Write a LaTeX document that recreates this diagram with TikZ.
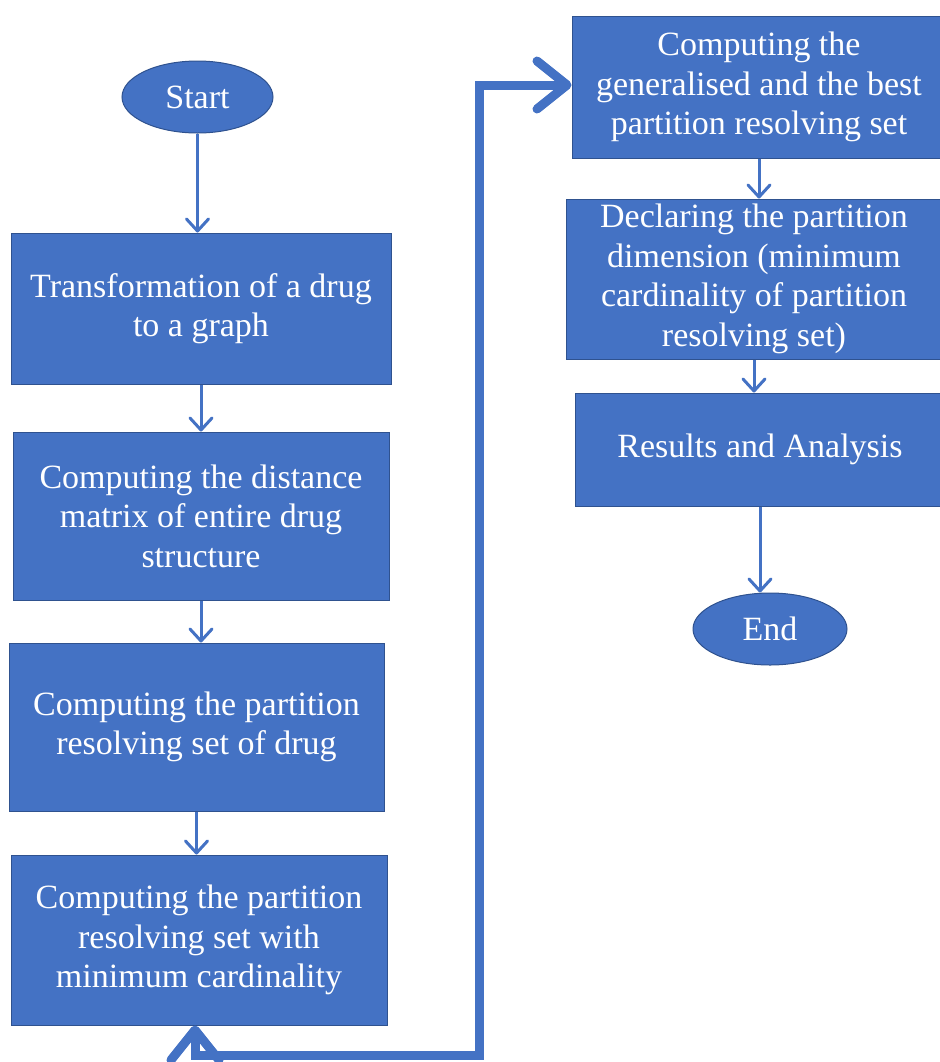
\documentclass[tikz,border=0pt]{standalone}
\usepackage{fontspec}
\setmainfont{Liberation Serif}
\usetikzlibrary{arrows.meta,shapes.geometric}
\definecolor{boxblue}{HTML}{4472C4}
\definecolor{boxedge}{HTML}{2F528F}
\tikzset{
  box/.style={shape=rectangle,draw=boxedge,line width=0.5pt,fill=boxblue,text=white,
    align=center,inner sep=0pt,font=\fontsize{17pt}{19.8pt}\selectfont},
  term/.style={shape=ellipse,draw=boxedge,line width=0.5pt,fill=boxblue,text=white,
    inner sep=0pt,font=\fontsize{17pt}{19.8pt}\selectfont},
  flow/.style={draw=boxblue,line width=1.5pt,-{Straight Barb[length=6pt,width=11pt,round]}},
  backflow/.style={draw=boxblue,line width=4.5pt,line join=miter,
    {Straight Barb[length=15pt,width=24pt,round]}-{Straight Barb[length=15pt,width=24pt,round]}}
}
\begin{document}
\begin{tikzpicture}[x=0.5pt,y=-0.5pt]
\useasboundingbox (0,0) rectangle (939,1062);
\node(0) at (197.5,97)[term,minimum width=75.5pt,minimum height=36pt] {Start};
\node(1) at (201,308.5)[box,minimum width=190pt,minimum height=75.5pt] {Transformation of a drug\\to a graph};
\node(2) at (201,516)[box,minimum width=188pt,minimum height=84pt] {Computing the distance\\matrix of entire drug\\structure};
\node(3) at (196.5,727)[box,minimum width=187.5pt,minimum height=84pt] {Computing the partition\\resolving set of drug};
\node(4) at (199,940)[box,minimum width=188pt,minimum height=85pt] {Computing the partition\\resolving set with\\minimum cardinality};
\node(5) at (759,87)[box,minimum width=187pt,minimum height=71pt] {Computing the\\generalised and the best\\partition resolving set};
\node(6) at (754,279)[box,minimum width=188pt,minimum height=80pt] {Declaring the partition\\dimension (minimum\\cardinality of partition\\resolving set)};
\node(7) at (760,449.5)[box,minimum width=185pt,minimum height=56.5pt] {Results and Analysis};
\node(8) at (770,629)[term,minimum width=77pt,minimum height=36pt] {End};
\coordinate(c1) at (479,1055);
\coordinate(c2) at (479,85);
\path
  (0.south) edge [flow] (0.south |- 1.north)
  (1.south) edge [flow] (1.south |- 2.north)
  (2.south) edge [flow] (2.south |- 3.north)
  (3.south) edge [flow] (3.south |- 4.north)
  (5.south) edge [flow] (5.south |- 6.north)
  (6.south) edge [flow] (6.south |- 7.north)
  (7.south) edge [flow] (7.south |- 8.north);
\draw [backflow] ([xshift=-2pt]4.south) |- (c1) -- (c2) -- (5.west |- c2);
\end{tikzpicture}
\end{document}
